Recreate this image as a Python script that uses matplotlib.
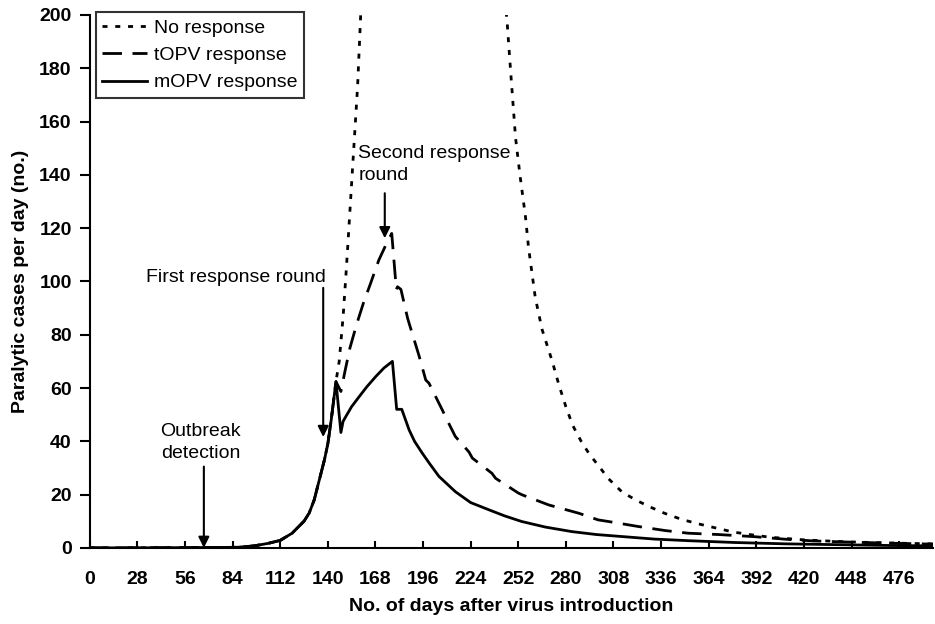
import numpy as np
import matplotlib.pyplot as plt

plt.rcParams['font.family'] = ['Liberation Sans', 'DejaVu Sans']

# Общий участок роста эпидемии (до первого тура)
early_days = [0, 20, 40, 60, 75, 84, 90, 98, 105, 112, 119, 126, 129, 132, 135, 138, 140, 142, 144.8]
early_cases = [0, 0, 0.05, 0.1, 0.15, 0.2, 0.3, 0.9, 1.7, 2.8, 5.5, 10, 13, 18, 25.5, 33, 39, 48, 62.4]

# Без ответных мер
none_days = [146.7, 149, 150.6, 151.6, 154.5, 157.5, 159, 162, 170, 185, 200, 215, 230, 240,
             245.5, 247.5, 250.4, 253, 256.3, 258, 262, 266, 272, 276, 280, 284, 289, 294,
             299, 305, 313, 321, 329, 338, 348, 358, 368, 378, 388, 400, 420, 440, 460, 480, 496]
none_cases = [70, 86.8, 101.8, 111.8, 142, 173, 195, 240, 320, 390, 410, 380, 300, 235,
              197, 179, 154, 140, 124, 113, 94, 82, 70, 61, 53, 46, 40, 35,
              31, 26, 21, 18, 15.5, 13, 10.7, 9, 7.5, 6, 5, 4, 3, 2.4, 2, 1.7, 1.5]

# Ответ tOPV
topv_days = [147.7, 150, 153, 157, 161, 165, 170, 174, 177.6, 180.3, 181, 183, 187, 193.7,
             197.6, 199.5, 207.3, 211, 215, 223, 225, 236.5, 238.7, 252, 254.3, 270, 287.6,
             299, 305, 322.8, 338.4, 352, 370, 391, 410, 426, 450, 475, 496]
topv_cases = [58.7, 66, 75, 84, 92, 99, 108, 113.5, 118, 97, 98, 97, 86, 72,
              63, 61.8, 51.8, 46.9, 41.8, 36, 33.7, 28, 26.1, 20.6, 19.9, 16.1, 13,
              10.5, 9.9, 8, 6.5, 5.5, 5, 4.2, 3.2, 2.6, 2.1, 1.7, 1.4]

# Ответ mOPV
mopv_days = [147.7, 149, 150.6, 154, 158.5, 163, 168.2, 173, 178, 180.5, 183.5, 187.8, 191,
             195.6, 200, 205.4, 215, 224, 234.7, 244, 254, 268, 283.6, 298, 313, 332, 352,
             380, 410, 440, 470, 496]
mopv_cases = [43.3, 47.5, 49.3, 53, 56.8, 60.5, 64.3, 67.5, 70, 52, 52, 44.3, 40,
              35.5, 31.5, 26.8, 21.1, 17, 14.3, 12, 9.9, 7.8, 6.1, 5, 4.25, 3.3, 2.7,
              2.0, 1.5, 1.2, 0.9, 0.75]

x_ticks = list(range(0, 477, 28))
y_ticks = list(range(0, 201, 20))

fig = plt.figure(figsize=(9.35, 6.24), dpi=100)
ax = fig.add_axes([0.096, 0.122, 0.902, 0.854])

ax.plot(early_days + none_days, early_cases + none_cases, color='black', lw=2,
        linestyle=(0, (1.8, 2.8)), label='No response')
ax.plot(early_days + topv_days, early_cases + topv_cases, color='black', lw=2,
        linestyle=(0, (7, 3.8)), label='tOPV response')
ax.plot(early_days + mopv_days, early_cases + mopv_cases, color='black', lw=2,
        linestyle='-', label='mOPV response')

ax.set_xlim(0, 496)
ax.set_ylim(0, 200)
ax.set_xticks(x_ticks)
ax.set_yticks(y_ticks)
for lbl in ax.get_xticklabels() + ax.get_yticklabels():
    lbl.set_fontweight('bold')
ax.tick_params(axis='x', direction='in', length=5, width=1.5, labelsize=14, pad=17)
ax.tick_params(axis='y', direction='out', length=7, width=1.5, labelsize=14, pad=6)

for side in ['top', 'right']:
    ax.spines[side].set_visible(False)
for side in ['left', 'bottom']:
    ax.spines[side].set_linewidth(1.5)

ax.set_xlabel('No. of days after virus introduction', fontsize=14, fontweight='bold', labelpad=7)
ax.set_ylabel('Paralytic cases per day (no.)', fontsize=14, fontweight='bold', labelpad=7)

# Подписи событий со стрелками
arrow = dict(arrowstyle='-|>', color='black', lw=1.5, mutation_scale=16, shrinkA=0, shrinkB=0)
ax.text(65.1, 39.4, 'Outbreak\ndetection', ha='center', va='center', fontsize=14, linespacing=1.4)
ax.annotate('', xy=(67.1, 0), xytext=(67.1, 30.5), arrowprops=arrow)
ax.text(86, 101.3, 'First response round', ha='center', va='center', fontsize=14)
ax.annotate('', xy=(137.3, 41.6), xytext=(137.3, 97.6), arrowprops=arrow)
ax.text(157.9, 144, 'Second response\nround', ha='left', va='center', fontsize=14, linespacing=1.4)
ax.annotate('', xy=(173.5, 116.2), xytext=(173.5, 133.1), arrowprops=arrow)

leg = ax.legend(loc='upper left', bbox_to_anchor=(0.007, 1.005), fontsize=14, frameon=True,
                fancybox=False, edgecolor='black', handlelength=2.3, handletextpad=0.35,
                borderpad=0.35, labelspacing=0.5, borderaxespad=0)
leg.get_frame().set_linewidth(1.5)

fig.savefig('out.png', dpi=100)
